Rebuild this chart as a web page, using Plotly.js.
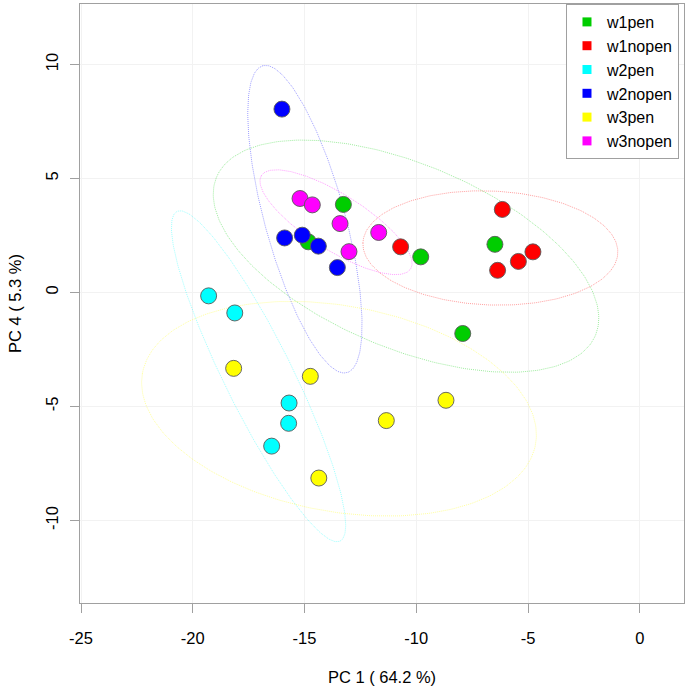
<!DOCTYPE html>
<html>
<head>
<meta charset="utf-8">
<script src="https://cdn.plot.ly/plotly-3.0.1.min.js"></script>
<style>html,body{margin:0;padding:0;background:#fff;}#chart{width:686px;height:690px;}</style>
</head>
<body>
<div id="chart"></div>
<script>
// ---- data ----
const groups = ['w1pen', 'w1nopen', 'w2pen', 'w2nopen', 'w3pen', 'w3nopen'];
const groupColors = ['#00CD00', '#FF0000', '#00FFFF', '#0000FF', '#FFFF00', '#FF00FF'];

const w1pen_x = [-14.83, -13.26, -9.80, -6.48, -7.92];
const w1pen_y = [2.22, 3.86, 1.56, 2.11, -1.80];

const w1nopen_x = [-10.70, -6.15, -4.78, -5.43, -6.36];
const w1nopen_y = [2.00, 3.64, 1.78, 1.36, 0.97];

const w2pen_x = [-19.29, -18.12, -15.69, -15.71, -16.47];
const w2pen_y = [-0.15, -0.90, -4.85, -5.74, -6.74];

const w2nopen_x = [-16.01, -15.89, -15.10, -14.38, -13.53];
const w2nopen_y = [8.04, 2.39, 2.51, 2.03, 1.09];

const w3pen_x = [-18.17, -14.74, -14.36, -11.34, -8.67];
const w3pen_y = [-3.33, -3.68, -8.14, -5.62, -4.73];

const w3nopen_x = [-15.20, -14.65, -13.41, -13.01, -11.68];
const w3nopen_y = [4.12, 3.84, 3.02, 1.79, 2.63];

const xTicks = [-25, -20, -15, -10, -5, 0];
const yTicks = [-10, -5, 0, 5, 10];
const xTitle = 'PC 1 ( 64.2 %)';
const yTitle = 'PC 4 ( 5.3 %)';

const seriesX = [w1pen_x, w1nopen_x, w2pen_x, w2nopen_x, w3pen_x, w3nopen_x];
const seriesY = [w1pen_y, w1nopen_y, w2pen_y, w2nopen_y, w3pen_y, w3nopen_y];

// 95% normal data ellipse from each group's sample covariance
function ellipse(xs, ys) {
  const n = xs.length;
  const mx = xs.reduce((a, b) => a + b, 0) / n;
  const my = ys.reduce((a, b) => a + b, 0) / n;
  let sxx = 0, syy = 0, sxy = 0;
  for (let i = 0; i < n; i++) {
    const dx = xs[i] - mx, dy = ys[i] - my;
    sxx += dx * dx; syy += dy * dy; sxy += dx * dy;
  }
  sxx /= (n - 1); syy /= (n - 1); sxy /= (n - 1);
  const tr = sxx + syy, det = sxx * syy - sxy * sxy;
  const disc = Math.sqrt(Math.max(tr * tr / 4 - det, 0));
  const l1 = tr / 2 + disc, l2 = tr / 2 - disc;
  const theta = (Math.abs(sxy) < 1e-12) ? (sxx >= syy ? 0 : Math.PI / 2) : Math.atan2(l1 - sxx, sxy);
  const r = Math.sqrt(-2 * Math.log(0.05)); // sqrt(qchisq(.95, 2))
  const a = r * Math.sqrt(l1), b = r * Math.sqrt(Math.max(l2, 0));
  const ex = [], ey = [];
  for (let k = 0; k <= 240; k++) {
    const t = 2 * Math.PI * k / 240;
    const u = a * Math.cos(t), v = b * Math.sin(t);
    ex.push(mx + u * Math.cos(theta) - v * Math.sin(theta));
    ey.push(my + u * Math.sin(theta) + v * Math.cos(theta));
  }
  return {x: ex, y: ey};
}

const traces = [];
groups.forEach((g, i) => {
  const e = ellipse(seriesX[i], seriesY[i]);
  traces.push({
    type: 'scatter', mode: 'lines', x: e.x, y: e.y,
    line: {color: groupColors[i], width: 1, dash: '1px,1px'},
    opacity: 0.38, showlegend: false, hoverinfo: 'skip'
  });
});
groups.forEach((g, i) => {
  traces.push({
    type: 'scatter', mode: 'markers', name: g,
    x: seriesX[i], y: seriesY[i],
    marker: {color: groupColors[i], size: 16, line: {color: 'rgba(90,90,90,0.9)', width: 1}},
    showlegend: false
  });
});
// legend entries (square keys)
groups.forEach((g, i) => {
  traces.push({
    type: 'scatter', mode: 'markers', name: g,
    x: [null], y: [null],
    marker: {color: groupColors[i], size: 9, symbol: 'square'},
    showlegend: true
  });
});

const fontFam = 'Liberation Sans, Arial, Helvetica, sans-serif';
const layout = {
  width: 686, height: 690,
  margin: {l: 80, r: 2, t: 4, b: 87},
  paper_bgcolor: '#ffffff', plot_bgcolor: '#ffffff',
  font: {family: fontFam, size: 16.5, color: '#000'},
  showlegend: true,
  legend: {
    x: 0.9917, xanchor: 'right', y: 1, yanchor: 'top',
    bordercolor: '#a0a0a0', borderwidth: 1, bgcolor: '#fff',
    font: {family: fontFam, size: 16, color: '#000'},
    itemsizing: 'trace', tracegroupgap: 0
  },
  xaxis: {
    range: [-25.045, 1.98], tickmode: 'array', tickvals: xTicks,
    ticktext: xTicks.map(String),
    ticks: 'outside', ticklen: 9, tickcolor: '#a0a0a0', tickwidth: 1,
    ticklabelstandoff: 11,
    showline: true, mirror: true, linecolor: '#a0a0a0', linewidth: 1,
    showgrid: true, gridcolor: '#f2f2f2', gridwidth: 1, zeroline: false,
    title: {text: xTitle, standoff: 25, font: {family: fontFam, size: 16.5}}
  },
  yaxis: {
    range: [-13.62, 12.65], tickmode: 'array', tickvals: yTicks,
    ticktext: yTicks.map(String), tickangle: -90,
    ticks: 'outside', ticklen: 9, tickcolor: '#a0a0a0', tickwidth: 1,
    ticklabelstandoff: 5,
    showline: true, mirror: true, linecolor: '#a0a0a0', linewidth: 1,
    showgrid: true, gridcolor: '#f2f2f2', gridwidth: 1, zeroline: false,
    title: {text: yTitle, standoff: 17, font: {family: fontFam, size: 16.5}}
  }
};

Plotly.newPlot('chart', traces, layout, {displayModeBar: false, staticPlot: true});
</script>
</body>
</html>
